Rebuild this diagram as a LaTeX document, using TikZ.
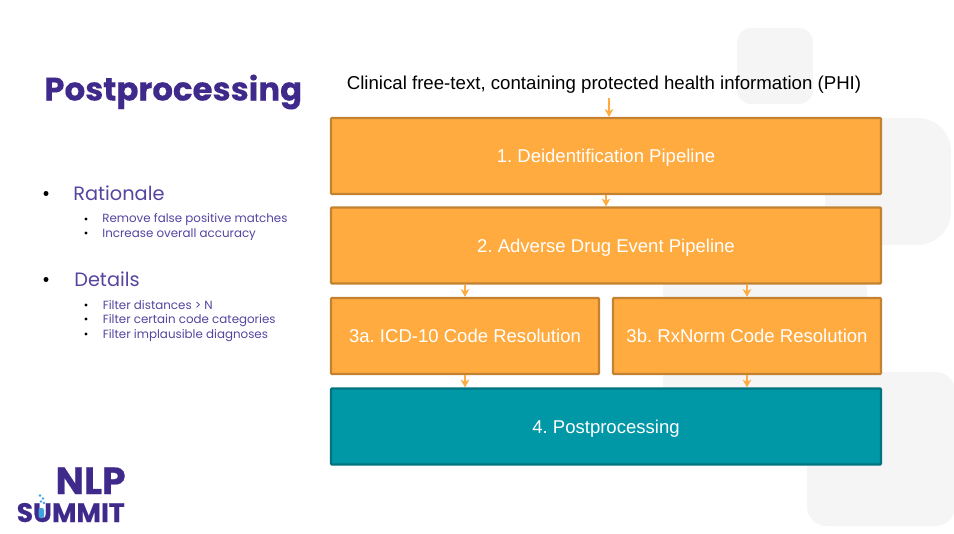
\documentclass[tikz,border=0pt]{standalone}
\usepackage{fontspec}
\setmainfont{Liberation Sans}
\newfontfamily\titlefont[BoldFeatures={FakeBold=0.2}]{Poppins}
\newfontfamily\logofont[BoldFeatures={FakeBold=0.5}]{Poppins}
\frenchspacing
\usetikzlibrary{positioning,arrows.meta}
\definecolor{stepfill}{HTML}{FFAB40}
\definecolor{stepline}{HTML}{C28232}
\definecolor{postfill}{HTML}{0097A7}
\definecolor{postline}{HTML}{00737F}
\definecolor{purpletext}{HTML}{3F2A8C}
\definecolor{listtext}{HTML}{5644A0}
\definecolor{bgsquare}{HTML}{F5F5F5}
\definecolor{tube}{HTML}{3FA4DC}
\tikzset{>=Stealth}
\tikzset{
  stepbox/.style={draw=stepline, fill=stepfill, line width=1.3pt, rounded corners=0.5pt,
    text=white, font=\fontsize{10.55}{12}\selectfont, minimum height=76*0.02cm, inner sep=0pt, text depth=0pt, text height=7.4pt},
  flow/.style={->, draw=stepfill, line width=0.6pt, >={Stealth[length=4.5pt,width=5pt]}},
  headitem/.style={anchor=west, text=listtext, inner sep=0pt, font=\titlefont\fontsize{11}{13}\selectfont},
  subitem/.style={anchor=west, text=listtext, inner sep=0pt, font=\titlefont\fontsize{6.75}{9}\selectfont},
  logotext/.style={text=purpletext, inner sep=0pt, anchor=base east, text depth=0pt, text height=10pt},
  backsq/.style={fill=bgsquare, draw=none}
}
\begin{document}
\begin{tikzpicture}[x=0.02cm, y=-0.02cm]
    \useasboundingbox (0,0) rectangle (954,534);
    % background squares
    \fill[backsq, rounded corners=8pt] (737,28) rectangle (813,104);
    \fill[backsq, rounded corners=19pt] (825,118) rectangle (951,245);
    \fill[backsq, rounded corners=5pt] (663,270) rectangle (867,420);
    \fill[backsq, rounded corners=11pt] (807,372) rectangle (955,526);
    % title and bullets
    \node[anchor=west, text=purpletext, inner sep=0pt, font=\titlefont\bfseries\fontsize{18.45}{22}\selectfont] (title) at (44,92) {Postprocessing};
    \node[headitem] (rationale) at (73,193) {Rationale};
    \node[headitem] (details) at (74,279) {Details};
    \node[subitem] (sub1) at (102,220) {Remove false positive matches};
    \node[subitem] (sub2) at (102,235) {Increase overall accuracy};
    \node[subitem] (sub3) at (102.5,305.5) {Filter distances > N};
    \node[subitem] (sub4) at (102.5,321) {Filter certain code categories};
    \node[subitem] (sub5) at (102.5,336) {Filter implausible diagnoses};
    \foreach \y in {193.5,279.5} \fill (46,\y) circle (2.5);
    \foreach \y in {219,233,305,319,334} \fill (86,\y) circle (1.7);
    % pipeline
    \node[font=\fontsize{10.62}{12}\selectfont, inner sep=0pt] (phi) at (604,85) {Clinical free-text, containing protected health information (PHI)};
    \coordinate (phiout) at (609,98);
    \node[stepbox, minimum width=550*0.02cm] (deid) at (606,156) {1. Deidentification Pipeline};
    \node[stepbox, minimum width=550*0.02cm] (ade) at (606,245.5) {2. Adverse Drug Event Pipeline};
    \node[stepbox, minimum width=268*0.02cm] (icd) at (465,336) {3a. ICD-10 Code Resolution};
    \node[stepbox, minimum width=268*0.02cm] (rx) at (747,336) {3b. RxNorm Code Resolution};
    \node[stepbox, minimum width=550*0.02cm, draw=postline, fill=postfill] (post) at (606,426.5) {4. Postprocessing};
    \draw[flow] (phiout) -- (phiout |- deid.north);
    \draw[flow] (deid) -- (ade);
    \draw[flow] (ade.south -| icd.north) -- (icd);
    \draw[flow] (ade.south -| rx.north) -- (rx);
    \draw[flow] (icd) -- (icd |- post.north);
    \draw[flow] (rx) -- (rx |- post.north);
    % logo
    \node[logotext, font=\logofont\bfseries\fontsize{21.5}{26}\selectfont] (nlp) at (126,494) {NLP};
    \node[logotext, font=\logofont\bfseries\fontsize{15.2}{18}\selectfont] (summit) at (125,522) {SUMMIT};
    \fill[tube, rounded corners=1.2pt] (38.5,508) rectangle (44,518);
    \foreach \u/\v in {40/495.5, 43/498.5, 41/501.5, 44/503} \fill[tube] (\u,\v) circle (1.4);
\end{tikzpicture}
\end{document}
